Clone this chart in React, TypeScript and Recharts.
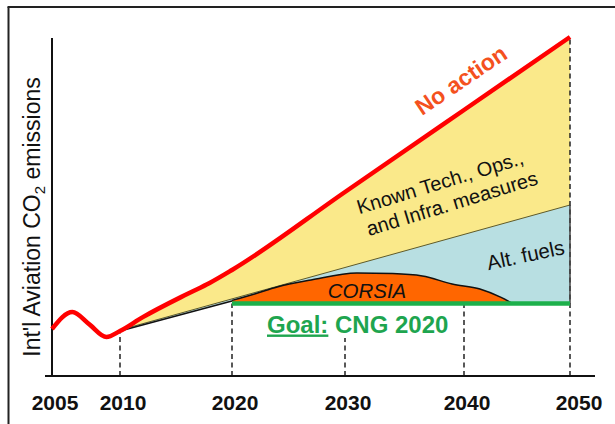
import { ComposedChart, Area, Line, XAxis, YAxis } from 'recharts'

// uneven tick spacing of the original drawing (2005–2010 is stretched)
const axisYears = [2005, 2010, 2020, 2030, 2040, 2050]
const axisStops = [0, 68, 180, 293, 412, 518]

const noActionYears = [2005, 2006.5, 2007.75, 2009, 2010, 2012, 2016, 2018, 2020, 2030, 2040, 2050]
const noActionValues = [23.5, 32, 25.8, 19.5, 22.5, 29.3, 41, 46.5, 53, 92, 133, 169.5]

const knownTechYears = [2010, 2050]
const knownTechValues = [23, 85.5]

const offsetYears = [2010, 2020]
const offsetValues = [22.5, 37.5]

const corsiaYears = [2020, 2022, 2024, 2027, 2031, 2034, 2036.5, 2039, 2041.5, 2043.5, 2044.6]
const corsiaValues = [37.8, 41, 44.5, 48, 51.5, 51.2, 50, 46, 43.5, 39.3, 36.2]

const cngYears = [2020, 2050]
const cngValues = [36.2, 36.2]

const coverYears = [2010, 2020, 2020, 2050]
const coverValues = [22.5, 37.5, 36.2, 36.2]

const guideYears = [2010, 2020, 2030, 2040, 2050]
const guideTops = [22.5, 36.2, 19, 36.2, 169.5]

const FONT = 'Liberation Sans, Arial, Helvetica, sans-serif'

function toPos(year: number) {
  for (let i = 1; i < axisYears.length; i++) {
    if (year <= axisYears[i]) {
      const t = (year - axisYears[i - 1]) / (axisYears[i] - axisYears[i - 1])
      return axisStops[i - 1] + t * (axisStops[i] - axisStops[i - 1])
    }
  }
  return axisStops[axisStops.length - 1]
}

function series(years: number[], values: number[]) {
  return years.map((y, i) => ({ x: toPos(y), v: values[i] }))
}

const noAction = series(noActionYears, noActionValues)
const yellowBand = noAction.filter((_, i) => noActionYears[i] >= 2010)
const knownTech = series(knownTechYears, knownTechValues)
const offsetLine = series(offsetYears, offsetValues)
const corsia = series(corsiaYears, corsiaValues)
const cng = series(cngYears, cngValues)
const cover = series(coverYears, coverValues)
const guides = guideYears.map((y, i) => [
  { x: toPos(y), v: 0 },
  { x: toPos(y), v: guideTops[i] },
])
const yAxisLine = [
  { x: toPos(2005), v: 0 },
  { x: toPos(2005), v: 169 },
]

function YearTick(props: any) {
  const { x, y, payload } = props
  const i = axisStops.indexOf(payload.value)
  const shift = i === axisStops.length - 1 ? 9 : 3
  return (
    <text x={x + shift} y={y + 26} textAnchor="middle" fontFamily={FONT} fontWeight="bold" fontSize={21} fill="#111">
      {axisYears[i]}
    </text>
  )
}

export default function App() {
  return (
    <div style={{ position: 'relative', width: 615, height: 424, background: '#fff' }}>
      <style>{'html,body{margin:0;padding:0;overflow:hidden;background:#fff}'}</style>
      <ComposedChart width={615} height={424} margin={{ top: 36, right: 20, bottom: 8, left: 45 }}>
        <XAxis
          dataKey="x"
          type="number"
          domain={[-7, 543]}
          ticks={axisStops}
          tick={<YearTick />}
          tickLine={false}
          axisLine={{ stroke: '#111', strokeWidth: 2 }}
          height={40}
          allowDataOverflow
        />
        <YAxis type="number" domain={[0, 170]} hide />
        <Area data={yellowBand} dataKey="v" type="monotone" fill="#fae98a" fillOpacity={1} stroke="none" isAnimationActive={false} />
        <Area data={knownTech} dataKey="v" type="linear" fill="#b8dfe2" fillOpacity={1} stroke="#5e5a2a" strokeWidth={1} isAnimationActive={false} />
        <Area data={corsia} dataKey="v" type="monotone" fill="#ff6600" fillOpacity={1} stroke="#111" strokeWidth={1.5} isAnimationActive={false} />
        <Area data={cover} dataKey="v" type="linear" fill="#fff" fillOpacity={1} stroke="none" isAnimationActive={false} />
        <Line data={offsetLine} dataKey="v" type="linear" stroke="#111" strokeWidth={1.5} dot={false} activeDot={false} isAnimationActive={false} />
        {guides.map((g, i) => (
          <Line
            key={i}
            data={g}
            dataKey="v"
            type="linear"
            stroke="#222"
            strokeWidth={1.5}
            strokeDasharray="5 3.5"
            dot={false}
            activeDot={false}
            isAnimationActive={false}
          />
        ))}
        <Line data={[{ x: toPos(2050), v: knownTechValues[1] }, { x: toPos(2050), v: cngValues[1] }]} dataKey="v" type="linear" stroke="#444" strokeWidth={1.5} dot={false} activeDot={false} isAnimationActive={false} />
        <Line data={yAxisLine} dataKey="v" type="linear" stroke="#111" strokeWidth={2} dot={false} activeDot={false} isAnimationActive={false} />
        <Line data={cng} dataKey="v" type="linear" stroke="#1db04b" strokeWidth={4.5} dot={false} activeDot={false} isAnimationActive={false} />
        <Line data={noAction} dataKey="v" type="monotone" stroke="#ff0000" strokeWidth={4.5} dot={false} activeDot={false} isAnimationActive={false} />
      </ComposedChart>
      <svg width={615} height={424} style={{ position: 'absolute', left: 0, top: 0, pointerEvents: 'none' }}>
        <line x1={8.5} y1={7} x2={8.5} y2={424} stroke="#222" strokeWidth={2} />
        <line x1={7.5} y1={7} x2={615} y2={7} stroke="#222" strokeWidth={2} />
        <text x={40} y={217} transform="rotate(-90 40 217)" textAnchor="middle" fontFamily={FONT} fontSize={23} fill="#111">
          Int'l Aviation CO<tspan fontSize={15} dy={5}>2</tspan>
          <tspan dy={-5}> emissions</tspan>
        </text>
        <text x={461} y={80} transform="rotate(-34 461 80)" textAnchor="middle" dominantBaseline="central" fontFamily={FONT} fontWeight="bold" fontSize={23} fill="#f4511e">
          No action
        </text>
        <text x={442} y={189} transform="rotate(-17 442 189)" textAnchor="middle" fontFamily={FONT} fontSize={20} fill="#111">
          Known Tech., Ops.,
        </text>
        <text x={454} y={210} transform="rotate(-17 454 210)" textAnchor="middle" fontFamily={FONT} fontSize={20} fill="#111">
          and Infra. measures
        </text>
        <text x={527} y={262} transform="rotate(-12 527 262)" textAnchor="middle" fontFamily={FONT} fontSize={20.5} fill="#111">
          Alt. fuels
        </text>
        <text x={367} y={298} textAnchor="middle" fontFamily={FONT} fontStyle="italic" fontSize={20.5} fill="#111">
          CORSIA
        </text>
        <text x={267} y={332.5} fontFamily={FONT} fontWeight="bold" fontSize={24} fill="#1ea54f">
          <tspan textDecoration="underline">Goal:</tspan> CNG 2020
        </text>
      </svg>
    </div>
  )
}
